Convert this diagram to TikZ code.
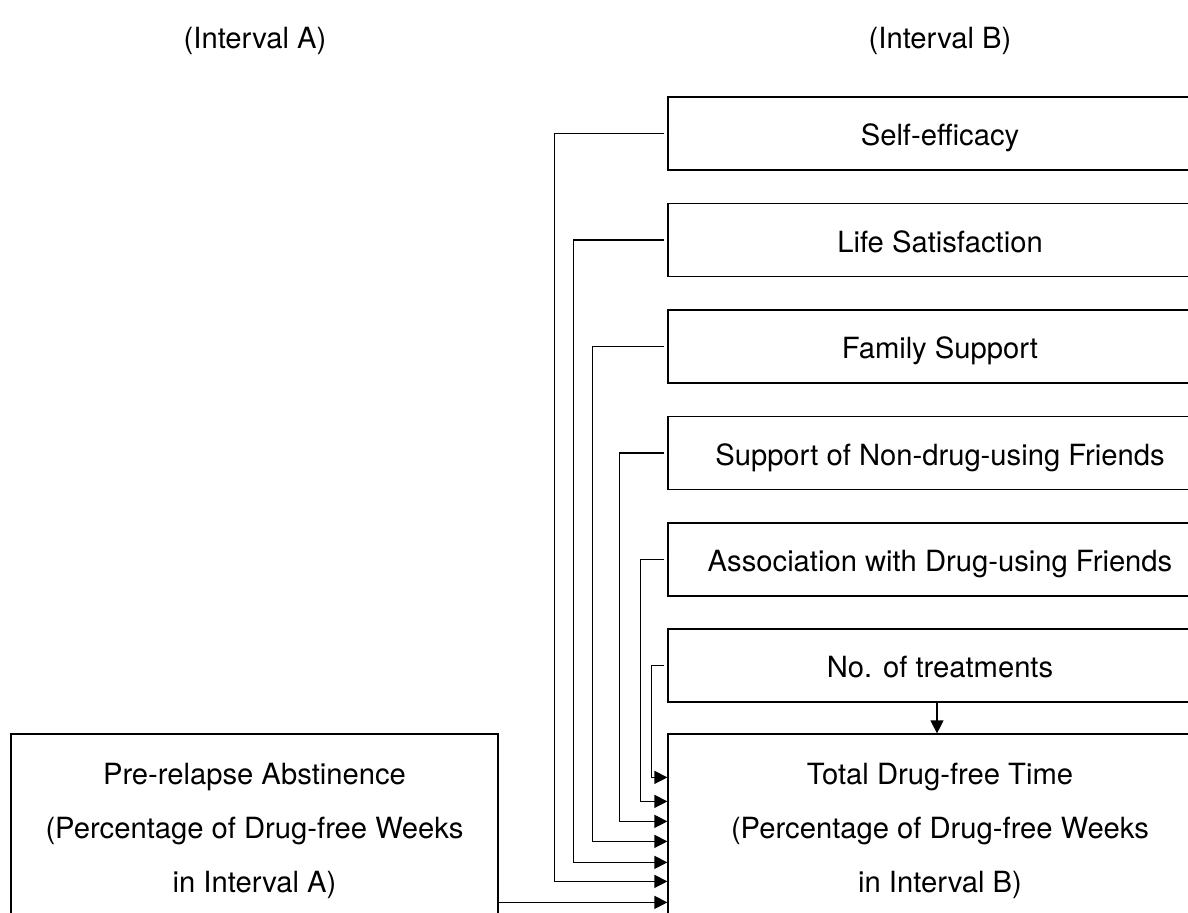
\documentclass[tikz,border=0pt]{standalone}
\usepackage{fontspec}
\setmainfont{TeX Gyre Heros}
\usetikzlibrary{arrows.meta,calc}
\begin{document}
\begin{tikzpicture}[x=0.5pt,y=-0.5pt,
  box/.style={draw,line width=0.6pt,inner sep=0pt,minimum width=272pt,minimum height=36.5pt,text height=12.5pt,text depth=0pt,font=\fontsize{14.6}{17}\selectfont},
  bigbox/.style={draw,line width=0.6pt,inner sep=0pt,align=center,font=\fontsize{14.6}{27}\selectfont},
  conn/.style={line width=0.6pt,-{Triangle[length=6.5pt,width=6.5pt]}},
  lbl/.style={font=\fontsize{14.6}{17}\selectfont}]
\clip (0,0) rectangle (1188,913);
\node[lbl] (ia) at (255,41) {(Interval A)};
\node[lbl] (ib) at (940,41) {(Interval B)};
\node[box] (se) at (940,133.5) {Self-efficacy};
\node[box] (ls) at (940,240) {Life Satisfaction};
\node[box] (fs) at (940,346.5) {Family Support};
\node[box] (ndf) at (940,453) {Support of Non-drug-using Friends};
\node[box] (adf) at (940,559.5) {Association with Drug-using Friends};
\node[box] (nt) at (940,665.5) {No. of treatments};
\node[bigbox,minimum width=272pt,minimum height=97pt] (total) at (940,831)
  {Total Drug-free Time\\(Percentage of Drug-free Weeks\\in Interval B)};
\node[bigbox,minimum width=243.5pt,minimum height=97pt] (pre) at (254.5,831)
  {Pre-relapse Abstinence\\(Percentage of Drug-free Weeks\\in Interval A)};
\draw[conn] ([xshift=-1.5pt]se.west) -- ++(-110,0) |- ($(total.north west)+(0,148)$);
\draw[conn] ([xshift=-1.5pt]ls.west) -- ++(-91,0) |- ($(total.north west)+(0,129)$);
\draw[conn] ([xshift=-1.5pt]fs.west) -- ++(-72,0) |- ($(total.north west)+(0,108)$);
\draw[conn] ([xshift=-1.5pt]ndf.west) -- ++(-45,0) |- ($(total.north west)+(0,88)$);
\draw[conn] ([xshift=-1.5pt]adf.west) -- ++(-24,0) |- ($(total.north west)+(0,68)$);
\draw[conn] ([xshift=-1.5pt]nt.west) -- ++(-13,0) |- ($(total.north west)+(0,44)$);
\draw[conn] ($(pre.north east)+(0,169)$) -- ($(total.north west)+(0,169)$);
\draw[conn] ([xshift=-1.5pt]nt.south) -- ([xshift=-1.5pt]total.north);
\end{tikzpicture}
\end{document}
